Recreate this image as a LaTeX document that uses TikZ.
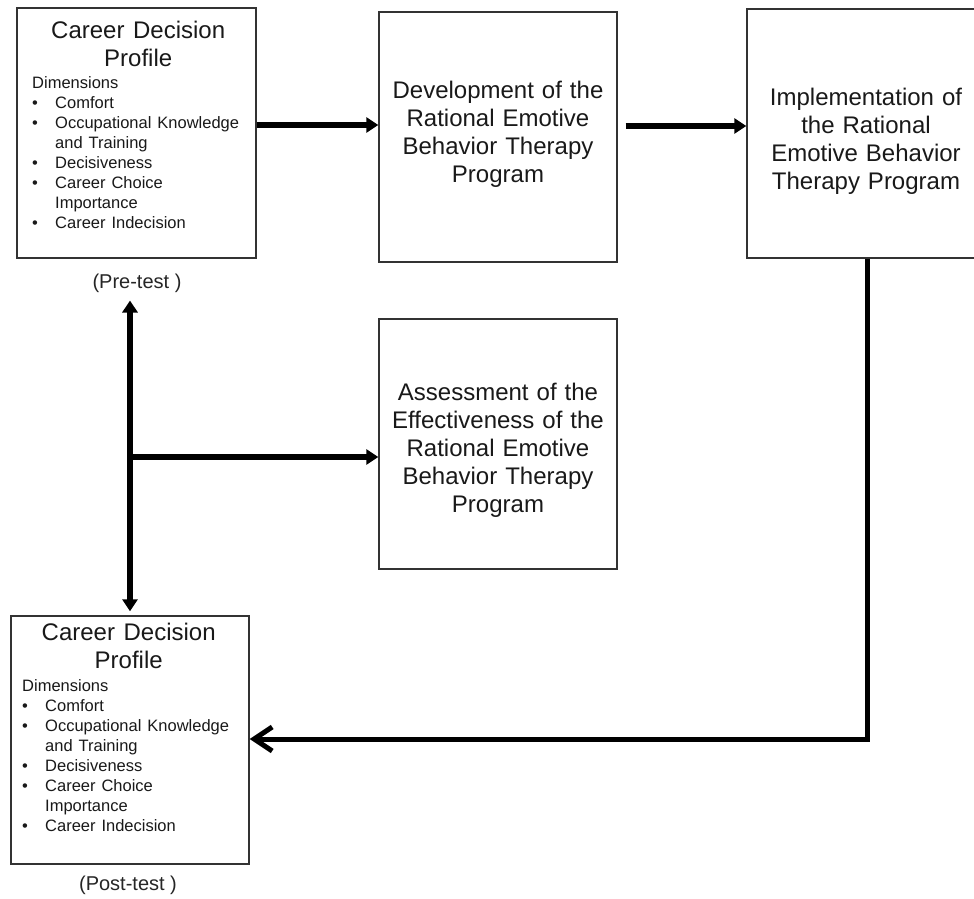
\documentclass[tikz,border=0pt]{standalone}
\usepackage{fontspec}
\setmainfont{Liberation Sans}
\usetikzlibrary{arrows.meta}
\newcommand{\blt}[2]{\hspace*{#1}\makebox[#2][l]{•}}
\newcommand{\cdpcontent}[2]{%
  {\centering\fontsize{24}{28}\selectfont\spaceskip=.36em Career Decision\\Profile\par}%
  \vspace{2.4pt}%
  {\fontsize{16.5}{20}\selectfont\raggedright\spaceskip=.36em
  Dimensions\\
  \blt{#1}{#2}Comfort\\
  \blt{#1}{#2}Occupational Knowledge\\
  \hspace*{23pt}and Training\\
  \blt{#1}{#2}Decisiveness\\
  \blt{#1}{#2}Career Choice\\
  \hspace*{23pt}Importance\\
  \blt{#1}{#2}Career Indecision\par}}
\begin{document}
\begin{tikzpicture}[x=1pt,y=-1pt,
  box/.style={draw=black!80, line width=1.4pt, rectangle, inner sep=0},
  flow/.style={line width=5.2pt, -{Triangle[length=12pt,width=15pt]}},
  ttl/.style={font=\fontsize{24}{28}\selectfont, text width=236pt, align=center, inner sep=0, anchor=base, text=black!90},
  cdp/.style={anchor=base west, inner sep=0, text=black!90},
  lab/.style={font=\fontsize{20}{24}\selectfont, inner sep=0, text=black!85}]
\clip (0,0) rectangle (974,899);
\fill[white] (0,0) rectangle (974,899);
% boxes
\node[box, minimum width=239pt, minimum height=250pt] (b1) at (136.5,133) {};
\node[box, minimum width=238pt, minimum height=250pt] (b2) at (498,137) {};
\node[box, minimum width=238pt, minimum height=249pt] (b3) at (866,133.5) {};
\node[box, minimum width=238pt, minimum height=250pt] (b4) at (498,444) {};
\node[box, minimum width=238pt, minimum height=248pt] (b5) at (130,740) {};
% texts
\node[ttl] (t2) at (498,98.6) {Development of the\\Rational Emotive\\Behavior Therapy\\Program};
\node[ttl] (t3) at (866,105.6) {Implementation of\\the Rational\\Emotive Behavior\\Therapy Program};
\node[ttl] (t4) at (498,400.6) {Assessment of the\\Effectiveness of the\\Rational Emotive\\Behavior Therapy\\Program};
\node[cdp, text width=212pt] (c1) at (32,38.6) {\cdpcontent{0pt}{23pt}};
\node[cdp, text width=213pt] (c5) at (22,640.6) {\cdpcontent{0pt}{23pt}};
\node[lab] (pre) at (137,283) {(Pre-test )};
\node[lab] (post) at (128,885) {(Post-test )};
% connectors
\coordinate (ya) at (0,125);
\coordinate (yb) at (0,126);
\coordinate (a2s) at ([xshift=8pt]b2.east);
\coordinate (br) at (130,457);
\coordinate (yc) at (0,739);
\coordinate (vt) at ([yshift=-8pt]pre.south);
\draw[flow] (b1.east |- ya) -- (b2.west |- ya);
\draw[flow] (a2s |- yb) -- (b3.west |- yb);
\draw[line width=5.2pt, {Triangle[length=12pt,width=15pt]}-{Triangle[length=12pt,width=15pt]}]
  (b5.north |- vt) -- ([yshift=4pt]b5.north);
\draw[flow] (br) -- (b4.west |- br);
\draw[line width=5pt, line join=miter, -{Straight Barb[length=18pt,width=24pt]}]
  ([xshift=1pt]b3.south) |- (b5.east |- yc);
\end{tikzpicture}
\end{document}
